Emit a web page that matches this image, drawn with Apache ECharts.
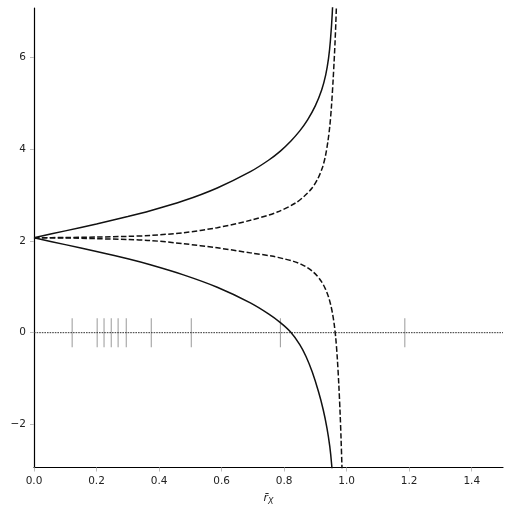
<!DOCTYPE html>
<html>
<head>
<meta charset="utf-8">
<script src="https://cdn.jsdelivr.net/npm/echarts@6/dist/echarts.min.js"></script>
<style>
  html, body { margin: 0; padding: 0; background: #fff; }
  #chart { width: 513px; height: 513px; }
</style>
</head>
<body>
<div id="chart"></div>
<script>
// values
var upperSolidX = [0, 0.1, 0.2, 0.3, 0.372, 0.478, 0.586, 0.692, 0.75, 0.788, 0.821, 0.85, 0.875, 0.9, 0.92, 0.933, 0.942, 0.948, 0.954, 0.962];
var upperSolidY = [2.07, 2.22, 2.372, 2.532, 2.658, 2.875, 3.156, 3.511, 3.76, 3.96, 4.175, 4.40, 4.64, 4.95, 5.29, 5.62, 5.98, 6.37, 6.97, 8.2];

var lowerSolidX = [0, 0.1, 0.2, 0.3, 0.372, 0.478, 0.586, 0.692, 0.75, 0.788, 0.82, 0.85, 0.87, 0.89, 0.91, 0.925, 0.937, 0.946, 0.952, 0.96];
var lowerSolidY = [2.07, 1.92, 1.77, 1.61, 1.48, 1.26, 0.99, 0.65, 0.41, 0.22, 0.02, -0.26, -0.52, -0.86, -1.29, -1.68, -2.08, -2.48, -2.88, -3.6];

var upperDashX = [0, 0.1, 0.2, 0.3, 0.372, 0.478, 0.586, 0.692, 0.778, 0.837, 0.865, 0.89, 0.908, 0.922, 0.932, 0.94, 0.946, 0.951, 0.957, 0.963, 0.967, 0.972];
var upperDashY = [2.07, 2.075, 2.085, 2.10, 2.12, 2.18, 2.29, 2.45, 2.63, 2.83, 2.98, 3.16, 3.36, 3.59, 3.85, 4.17, 4.5, 4.90, 5.55, 6.36, 7.08, 8.2];

var lowerDashX = [0, 0.1, 0.2, 0.3, 0.372, 0.478, 0.586, 0.692, 0.76, 0.80, 0.83, 0.855, 0.874, 0.892, 0.906, 0.92, 0.933, 0.942, 0.949, 0.955, 0.96, 0.965, 0.97, 0.975, 0.979, 0.982, 0.985, 0.988];
var lowerDashY = [2.07, 2.065, 2.05, 2.03, 2.01, 1.94, 1.85, 1.74, 1.67, 1.61, 1.555, 1.49, 1.42, 1.33, 1.235, 1.11, 0.94, 0.78, 0.605, 0.41, 0.19, -0.11, -0.55, -1.15, -1.75, -2.3, -2.95, -3.8];

var rugX = [0.122, 0.202, 0.224, 0.247, 0.269, 0.295, 0.375, 0.503, 0.788, 1.186];

var xTicks = [0, 0.2, 0.4, 0.6, 0.8, 1.0, 1.2, 1.4];
var yTicks = [-2, 0, 2, 4, 6];

function pairs(xs, ys) {
  return xs.map(function (x, i) { return [x, ys[i]]; });
}

var chart = echarts.init(document.getElementById('chart'));

var curveStyle = { color: '#111', width: 1.5 };
var dashStyle = { color: '#111', width: 1.5, type: [5.5, 2.4] };

var option = {
  animation: false,
  textStyle: { fontFamily: 'DejaVu Sans' },
  grid: { left: 34, right: 10, top: 8, bottom: 45.5 },
  xAxis: {
    type: 'value',
    min: 0,
    max: 1.5,
    name: '{r|r̄}{s|X}',
    nameLocation: 'middle',
    nameGap: 24,
    nameTextStyle: {
      rich: {
        r: { fontFamily: 'DejaVu Sans', fontStyle: 'italic', fontSize: 11, color: '#222' },
        s: { fontFamily: 'DejaVu Sans', fontStyle: 'italic', fontSize: 8, color: '#222', padding: [6, 0, 0, 0] }
      }
    },
    axisLine: { onZero: false, lineStyle: { color: '#000', width: 1.2 } },
    axisTick: { customValues: xTicks, length: 4, lineStyle: { color: '#bbb' } },
    axisLabel: {
      customValues: xTicks,
      margin: 8,
      fontSize: 10.5,
      color: '#222',
      formatter: function (v) { return v.toFixed(1); }
    },
    splitLine: { show: false }
  },
  yAxis: {
    type: 'value',
    min: -2.94,
    max: 7.08,
    axisLine: { show: true, onZero: false, lineStyle: { color: '#000', width: 1.2 } },
    axisTick: { show: true, customValues: yTicks, length: 4, lineStyle: { color: '#bbb' } },
    axisLabel: {
      customValues: yTicks,
      margin: 8,
      fontSize: 10.5,
      color: '#222',
      formatter: function (v) { return v < 0 ? '\u2212' + Math.abs(v) : String(v); }
    },
    splitLine: { show: false }
  },
  series: [
    {
      type: 'line',
      data: [[0, 0], [1.5, 0]],
      symbol: 'none',
      lineStyle: { color: '#333', width: 1, type: [1.6, 1] },
      silent: true
    },
    {
      type: 'scatter',
      data: rugX.map(function (x) { return [x, 0]; }),
      symbol: 'rect',
      symbolSize: [1, 29],
      itemStyle: { color: '#808080' },
      silent: true
    },
    { type: 'line', data: pairs(upperSolidX, upperSolidY), symbol: 'none', smooth: 0.3, lineStyle: curveStyle },
    { type: 'line', data: pairs(lowerSolidX, lowerSolidY), symbol: 'none', smooth: 0.3, lineStyle: curveStyle },
    { type: 'line', data: pairs(upperDashX, upperDashY), symbol: 'none', smooth: 0.3, lineStyle: dashStyle },
    { type: 'line', data: pairs(lowerDashX, lowerDashY), symbol: 'none', smooth: 0.3, lineStyle: dashStyle }
  ]
};

chart.setOption(option);
</script>
</body>
</html>
